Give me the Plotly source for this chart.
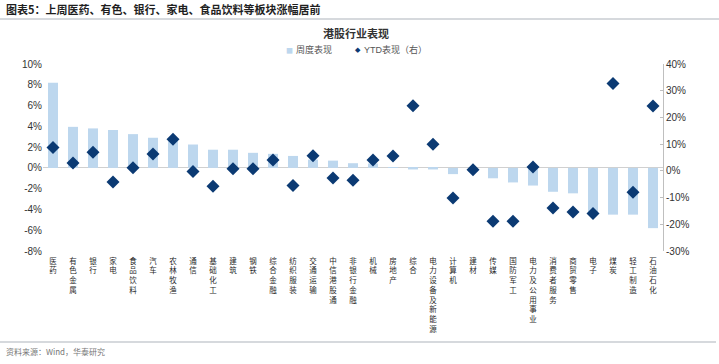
import plotly.graph_objects as go

categories = ["医药", "有色金属", "银行", "家电", "食品饮料", "汽车", "农林牧渔", "通信", "基础化工",
              "建筑", "钢铁", "综合金融", "纺织服装", "交通运输", "中信港股通", "非银行金融", "机械",
              "房地产", "综合", "电力设备及新能源", "计算机", "建材", "传媒", "国防军工",
              "电力及公用事业", "消费者服务", "商贸零售", "电子", "煤炭", "轻工制造", "石油石化"]
weekly = [8.2, 3.95, 3.8, 3.65, 3.25, 2.9, 2.7, 2.25, 1.75, 1.75, 1.45, 1.35, 1.15, 0.8, 0.7, 0.45,
          0.42, 0.05, -0.15, -0.15, -0.6, -0.35, -1.0, -1.4, -1.7, -2.3, -2.45, -4.25, -4.5, -4.5, -5.8]
ytd = [8.7, 2.9, 7.0, -4.2, 1.2, 6.3, 11.8, -0.25, -5.8, 0.75, 0.75, 4.1, -5.5, 5.7, -2.7, -3.5,
       4.1, 5.6, 24.4, 9.95, -10.2, 0.4, -18.9, -18.9, 1.4, -13.9, -15.4, -16.0, 32.7, -8.0, 24.3]
left_ticks = [-8, -6, -4, -2, 0, 2, 4, 6, 8, 10]
right_ticks = [-30, -20, -10, 0, 10, 20, 30, 40]

W, H = 719, 364
L, R, T, B = 43, 663, 64, 251

BAR_COLOR = "#BDD7EE"
DOT_COLOR = "#0B3A73"

def px(x):
    return (x - L) / (R - L)

def py(y):
    return (B - y) / (B - T)

tick_text = ["<br>".join(list(c)) for c in categories]

fig = go.Figure()
fig.add_trace(go.Bar(x=categories, y=weekly, name="周度表现", marker_color=BAR_COLOR,
                     marker_line_width=0, yaxis="y"))
fig.add_trace(go.Scatter(x=categories, y=ytd, name="YTD表现（右）", mode="markers",
                         marker=dict(symbol="diamond", size=10, color=DOT_COLOR), yaxis="y2"))

cjk = "Noto Sans CJK SC"
fig.update_layout(
    width=W, height=H,
    margin=dict(l=L, r=W - R, t=T, b=H - B, autoexpand=False),
    paper_bgcolor="white", plot_bgcolor="white",
    font=dict(family="Liberation Sans, Noto Sans CJK SC", size=10, color="#333333"),
    bargap=0.5,
    showlegend=False,
    xaxis=dict(tickmode="array", tickvals=categories, ticktext=tick_text, tickangle=0,
               tickfont=dict(family=cjk, size=7.5, color="#2A2A2A"), automargin=False,
               ticklabelstandoff=4,
               showgrid=False, showline=False, ticks="", range=[-0.5, len(categories) - 0.5]),
    yaxis=dict(range=[-8, 10], tickvals=left_ticks, ticktext=[f"{v}%" for v in left_ticks],
               showgrid=False, zeroline=True, zerolinecolor="#D0D0D0", zerolinewidth=1,
               showline=False, ticks="", automargin=False, tickfont=dict(size=10, color="#333333")),
    yaxis2=dict(range=[-30, 40], tickvals=right_ticks, ticktext=[f"{v}%" for v in right_ticks],
                overlaying="y", side="right", showgrid=False, zeroline=False, automargin=False,
                showline=True, linecolor="#BFBFBF", linewidth=1, ticks="inside", ticklen=3,
                tickcolor="#BFBFBF", tickfont=dict(size=10, color="#333333")),
    annotations=[
        dict(text="<b>图表5：上周医药、有色、银行、家电、食品饮料等板块涨幅居前</b>", xref="paper", yref="paper",
             x=px(4), y=py(9), xanchor="left", yanchor="middle", showarrow=False,
             font=dict(family=cjk, size=11, color="#1F1F1F")),
        dict(text="<b>港股行业表现</b>", xref="paper", yref="paper",
             x=px(356), y=py(33), xanchor="center", yanchor="middle", showarrow=False,
             font=dict(family=cjk, size=11, color="#333333")),
        dict(text="■", xref="paper", yref="paper", x=px(289), y=py(50), xanchor="center",
             yanchor="middle", showarrow=False, font=dict(family=cjk, size=7, color=BAR_COLOR)),
        dict(text="周度表现", xref="paper", yref="paper", x=px(294), y=py(50), xanchor="left",
             yanchor="middle", showarrow=False, font=dict(family=cjk, size=9, color="#555555")),
        dict(text="◆", xref="paper", yref="paper", x=px(358), y=py(50), xanchor="center",
             yanchor="middle", showarrow=False, font=dict(family="DejaVu Sans", size=7, color=DOT_COLOR)),
        dict(text="YTD表现（右）", xref="paper", yref="paper", x=px(362), y=py(50), xanchor="left",
             yanchor="middle", showarrow=False, font=dict(family="Liberation Sans, Noto Sans CJK SC", size=9, color="#555555")),
        dict(text="资料来源：Wind，华泰研究", xref="paper", yref="paper",
             x=px(4), y=py(351), xanchor="left", yanchor="middle", showarrow=False,
             font=dict(family=cjk, size=8, color="#777777")),
    ],
    shapes=[
        dict(type="line", xref="paper", yref="paper", x0=px(0), x1=px(719), y0=py(19), y1=py(19),
             line=dict(color="#C8CDD2", width=1.5)),
        dict(type="line", xref="paper", yref="paper", x0=px(0), x1=px(716), y0=py(342), y1=py(342),
             line=dict(color="#C8CDD2", width=1.5)),
    ],
)

fig.write_html("out.html", config={"displayModeBar": False},
               post_script="document.body.style.margin='0';document.body.style.padding='0';document.body.style.overflow='hidden';")
